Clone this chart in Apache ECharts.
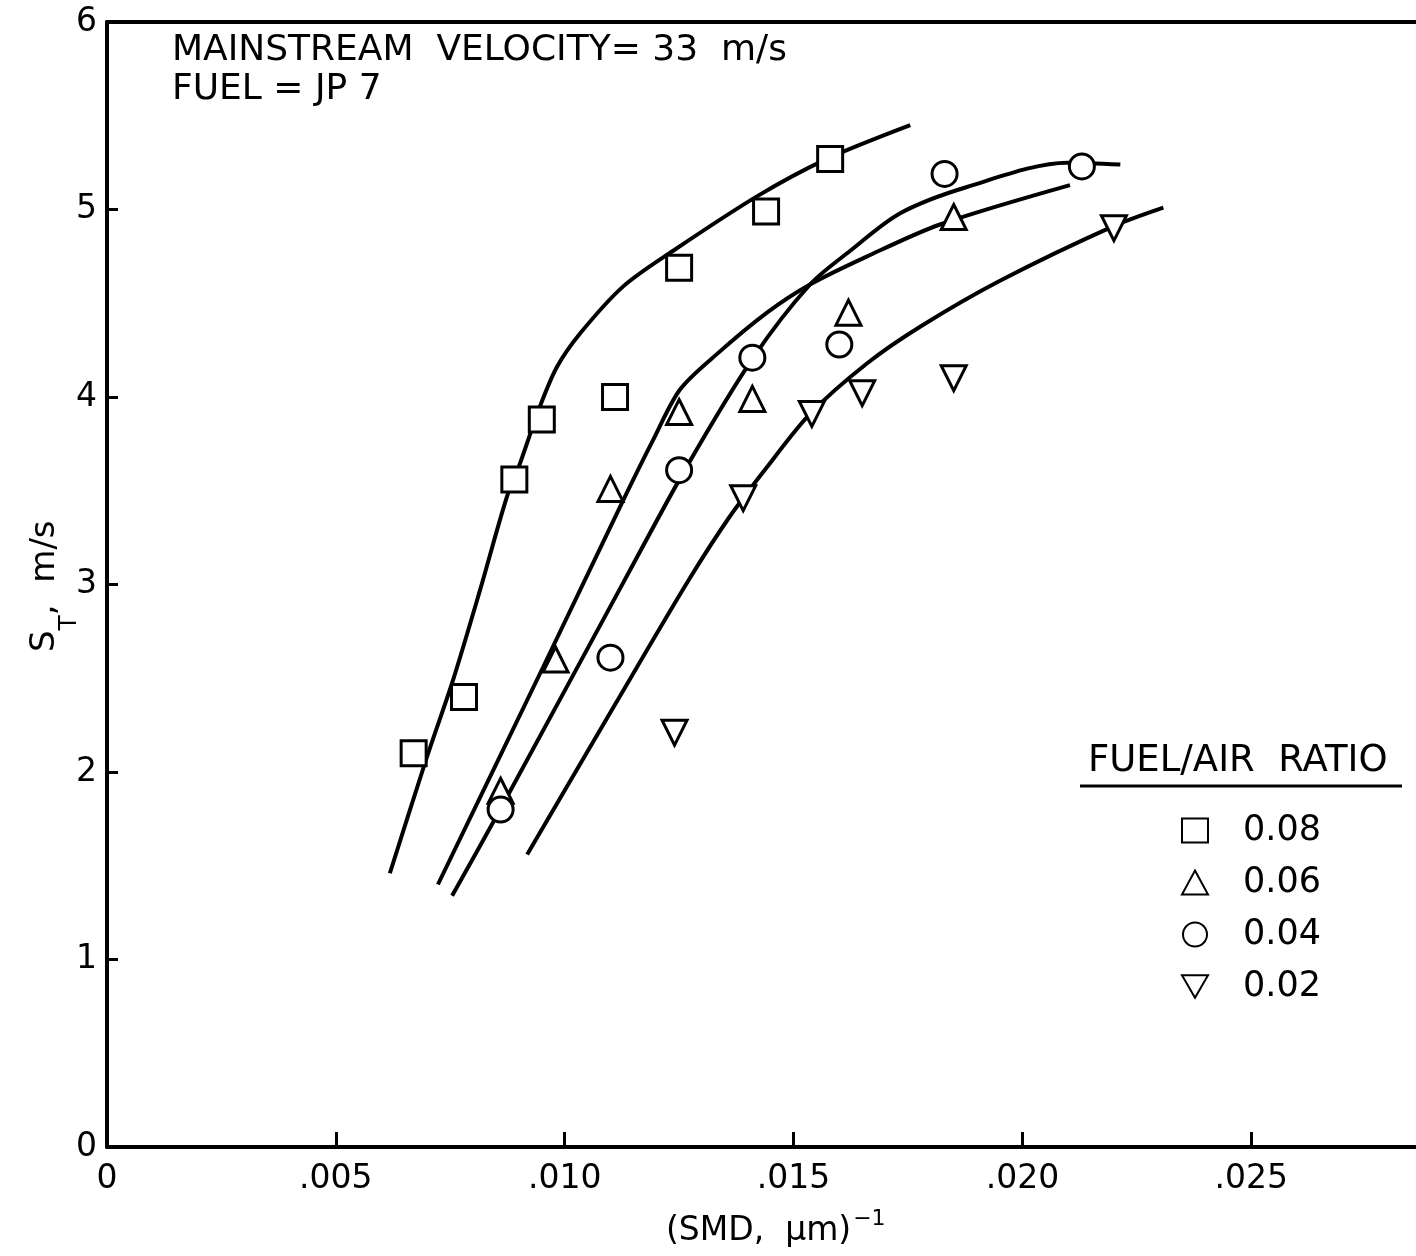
<!DOCTYPE html>
<html>
<head>
<meta charset="utf-8">
<script src="https://cdn.jsdelivr.net/npm/echarts@6/dist/echarts.min.js"></script>
<style>
  html, body { margin: 0; padding: 0; background: #fff; }
  #chart { width: 1416px; height: 1256px; }
</style>
</head>
<body>
<div id="chart"></div>
<script>
// Turbulent flame speed vs. inverse Sauter mean diameter, JP 7 at 33 m/s
const xTickValues = [0, 0.005, 0.010, 0.015, 0.020, 0.025];
const xTickLabels = ['0', '.005', '.010', '.015', '.020', '.025'];
const yTickLabels = ['0', '1', '2', '3', '4', '5', '6'];

const ratioNames = ['0.08', '0.06', '0.04', '0.02'];

// measured points [1/SMD (1/µm), S_T (m/s)]
const pts008 = [[0.0067, 2.10], [0.0078, 2.40], [0.0089, 3.56], [0.0095, 3.88], [0.0111, 4.00], [0.0125, 4.69], [0.0144, 4.99], [0.0158, 5.27]];
const pts006 = [[0.0086, 1.90], [0.0098, 2.60], [0.0110, 3.51], [0.0125, 3.92], [0.0141, 3.99], [0.0162, 4.45], [0.0185, 4.96]];
const pts004 = [[0.0086, 1.80], [0.0110, 2.61], [0.0125, 3.61], [0.0141, 4.21], [0.0160, 4.28], [0.0183, 5.19], [0.0213, 5.23]];
const pts002 = [[0.0124, 2.21], [0.0139, 3.46], [0.0154, 3.91], [0.0165, 4.02], [0.0185, 4.10], [0.0220, 4.90]];

// faired curves through each fuel/air ratio
const fit008 = [[0.00618, 1.46], [0.00699, 2.08], [0.00756, 2.49], [0.00815, 2.97], [0.00874, 3.47], [0.00903, 3.65], [0.00946, 3.95], [0.00983, 4.16], [0.01034, 4.34], [0.01128, 4.59], [0.01237, 4.78], [0.01420, 5.07], [0.01573, 5.27], [0.01755, 5.45]];
const fit006 = [[0.00723, 1.40], [0.00953, 2.56], [0.01128, 3.45], [0.01193, 3.77], [0.01252, 4.04], [0.01333, 4.23], [0.01442, 4.45], [0.01536, 4.60], [0.01661, 4.75], [0.01820, 4.92], [0.02104, 5.13]];
const fit004 = [[0.00754, 1.34], [0.00859, 1.80], [0.01128, 3.01], [0.01267, 3.63], [0.01412, 4.21], [0.01536, 4.60], [0.01624, 4.78], [0.01733, 4.98], [0.01879, 5.12], [0.02098, 5.25], [0.02214, 5.24]];
const fit002 = [[0.00918, 1.56], [0.01110, 2.36], [0.01270, 3.02], [0.01360, 3.36], [0.01440, 3.62], [0.01536, 3.91], [0.01661, 4.18], [0.01780, 4.38], [0.01951, 4.62], [0.02198, 4.91], [0.02308, 5.01]];

const FONT = 'DejaVu Sans';
const INK = '#000';
const DOWN_TRIANGLE = 'path://M0,0 L20,0 L10,17.3 Z';

const chart = echarts.init(document.getElementById('chart'), null, { renderer: 'canvas' });

function markerSeries(name, data, symbol, size) {
  return {
    type: 'scatter', name: name, data: data,
    symbol: symbol, symbolSize: size,
    itemStyle: { color: '#fff', borderColor: INK, borderWidth: 3, opacity: 1 },
    z: 5, silent: true
  };
}
function curveSeries(data) {
  return {
    type: 'line', data: data, smooth: 0.3,
    showSymbol: false, symbol: 'none',
    lineStyle: { color: INK, width: 4 }, z: 3, silent: true
  };
}

chart.setOption({
  animation: false,
  backgroundColor: '#fff',
  grid: { left: 107, top: 22, bottom: 109, right: 0, containLabel: false },
  xAxis: [{
    type: 'value', min: 0, max: 0.0286,
    axisLine: { show: true, lineStyle: { color: INK, width: 4 } },
    axisTick: { show: true, inside: true, length: 15, customValues: xTickValues, lineStyle: { color: INK, width: 3 } },
    splitLine: { show: false },
    axisLabel: {
      margin: 16, color: INK, fontFamily: FONT, fontSize: 33,
      customValues: xTickValues,
      formatter: function (v) {
        const i = xTickValues.findIndex(t => Math.abs(t - v) < 1e-9);
        return i >= 0 ? xTickLabels[i] : '';
      }
    }
  }, {
    type: 'value', position: 'top', min: 0, max: 0.0286,
    axisLine: { show: true, onZero: false, lineStyle: { color: INK, width: 4 } },
    axisTick: { show: false }, axisLabel: { show: false }, splitLine: { show: false }
  }],
  yAxis: {
    type: 'value', min: 0, max: 6, interval: 1,
    axisLine: { show: true, lineStyle: { color: INK, width: 4 } },
    axisTick: { show: true, inside: true, length: 11, lineStyle: { color: INK, width: 3 } },
    splitLine: { show: false },
    axisLabel: {
      margin: 10, color: INK, fontFamily: FONT, fontSize: 33,
      formatter: function (v) { return yTickLabels[Math.round(v)]; }
    }
  },
  legend: {
    orient: 'vertical', left: 1176, top: 808,
    itemWidth: 26, itemHeight: 24, itemGap: 17,
    data: ratioNames,
    textStyle: { color: INK, fontFamily: FONT, fontSize: 35, padding: [0, 0, 0, 30] },
    selectedMode: false
  },
  graphic: [
    { type: 'text', left: 172, top: 33, style: { text: 'MAINSTREAM  VELOCITY= 33  m/s', font: '36px "DejaVu Sans"', fill: INK } },
    { type: 'text', left: 172, top: 72, style: { text: 'FUEL = JP 7', font: '36px "DejaVu Sans"', fill: INK } },
    { type: 'text', left: 1088, top: 743, style: { text: 'FUEL/AIR  RATIO', font: '37px "DejaVu Sans"', fill: INK } },
    { type: 'line', shape: { x1: 1080, y1: 786, x2: 1402, y2: 786 }, style: { stroke: INK, lineWidth: 3 } },
    {
      type: 'text', left: 666, top: 1208,
      style: {
        text: '{a|(SMD,  \u03bcm)}{b|\u22121}', fill: INK,
        rich: {
          a: { fontFamily: FONT, fontSize: 33, lineHeight: 40, verticalAlign: 'bottom' },
          b: { fontFamily: FONT, fontSize: 22, lineHeight: 22, verticalAlign: 'top', padding: [0, 0, 0, 2] }
        }
      }
    },
    {
      type: 'text', x: 28, y: 652, rotation: Math.PI / 2,
      style: {
        text: '{s|S}{t|T}{s|,  m/s}', fill: INK,
        rich: {
          s: { fontFamily: FONT, fontSize: 34, lineHeight: 34, verticalAlign: 'top' },
          t: { fontFamily: FONT, fontSize: 25, lineHeight: 54, verticalAlign: 'bottom' }
        }
      }
    }
  ],
  series: [
    curveSeries(fit008), curveSeries(fit006), curveSeries(fit004), curveSeries(fit002),
    markerSeries(ratioNames[0], pts008, 'rect', 25),
    markerSeries(ratioNames[1], pts006, 'triangle', 25),
    markerSeries(ratioNames[2], pts004, 'circle', 25),
    markerSeries(ratioNames[3], pts002, DOWN_TRIANGLE, 25)
  ]
});
</script>
</body>
</html>
